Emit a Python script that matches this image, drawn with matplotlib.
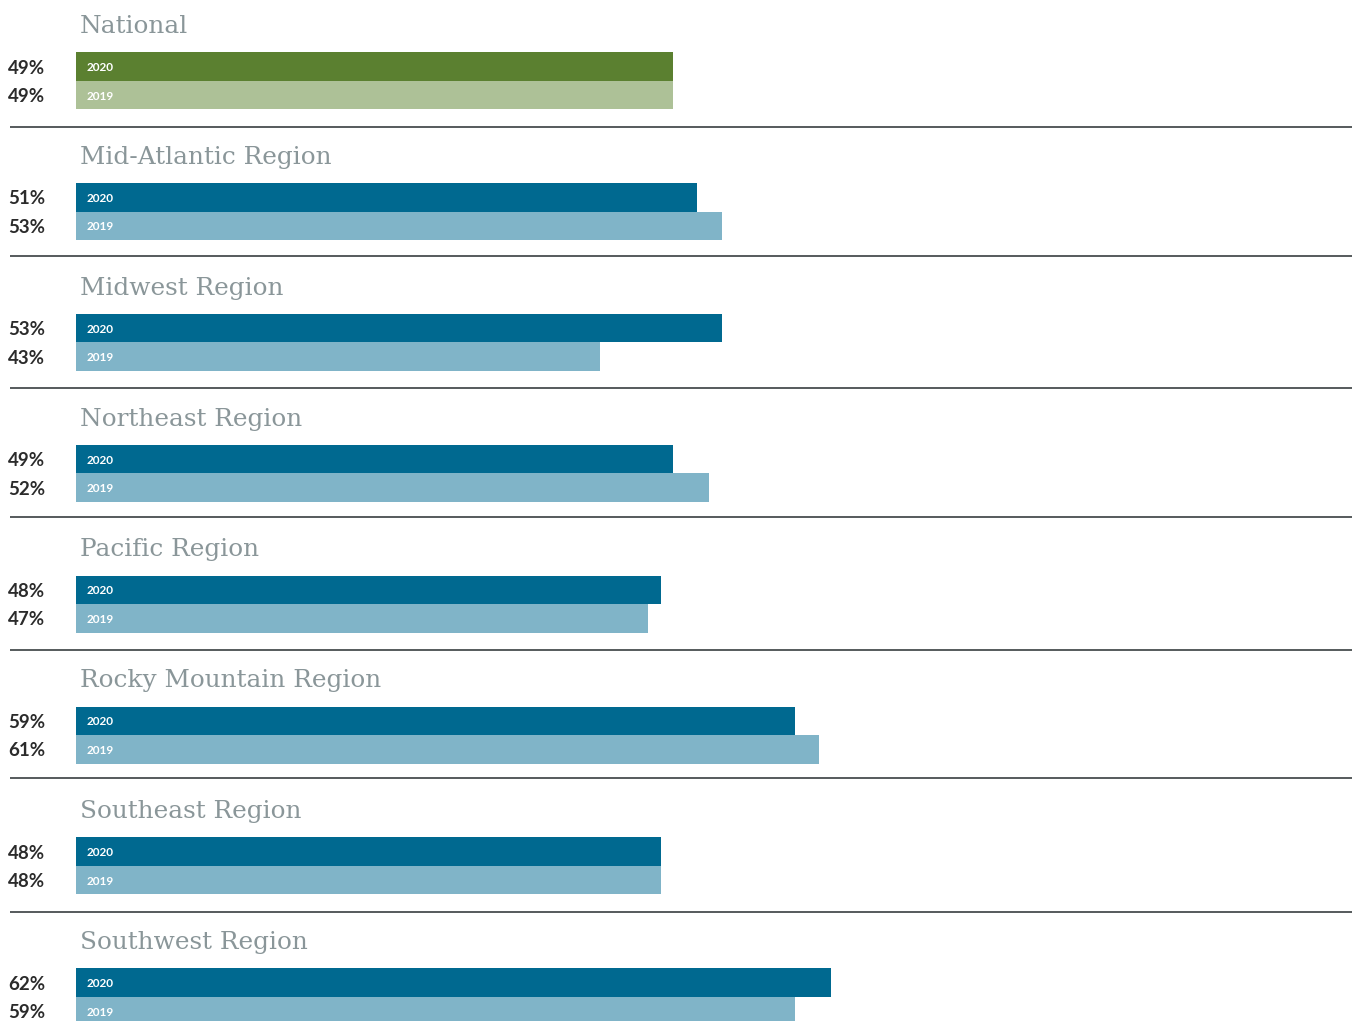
import matplotlib
matplotlib.use("Agg")
import matplotlib.pyplot as plt

regions = ["National", "Mid-Atlantic Region", "Midwest Region", "Northeast Region",
           "Pacific Region", "Rocky Mountain Region", "Southeast Region", "Southwest Region"]
values_2020 = [49, 51, 53, 49, 48, 59, 48, 62]
values_2019 = [49, 53, 43, 52, 47, 61, 48, 59]
year_labels = ["2020", "2019"]

W, H = 1357, 1021
fig = plt.figure(figsize=(W / 100, H / 100), dpi=100)
ax = fig.add_axes([0, 0, 1, 1])
px_per_pct = 12.18
x0 = 76
ax.set_xlim(-x0 / px_per_pct, (W - x0) / px_per_pct)
ax.set_ylim(H, 0)
ax.axis("off")

spacing = 130.86
bar_h = 28.5
sep_y = [127, 256, 388, 517, 650, 778, 912]

def px_x(p):
    return (p - x0) / px_per_pct

for i, name in enumerate(regions):
    base = i * spacing
    if i == 0:
        c20, c19 = "#5b8030", "#adc197"
    else:
        c20, c19 = "#006990", "#80b4c8"
    y20 = 66.5 + base
    y19 = 95 + base
    ax.barh([y20], [values_2020[i]], height=bar_h, left=0, color=c20, linewidth=0)
    ax.barh([y19], [values_2019[i]], height=bar_h, left=0, color=c19, linewidth=0)
    ax.text(px_x(87), y20 + 1, year_labels[0], color="white", fontsize=8.5,
            fontweight="bold", family="Lato", va="center", ha="left")
    ax.text(px_x(87), y19 + 1, year_labels[1], color="white", fontsize=8.5,
            fontweight="bold", family="Lato", va="center", ha="left")
    ax.text(px_x(8), y20 + 1.5, f"{values_2020[i]}%", color="#2b2b2b", fontsize=13.5,
            fontweight="bold", family="Lato", va="center", ha="left")
    ax.text(px_x(8), y19 + 1.5, f"{values_2019[i]}%", color="#2b2b2b", fontsize=13.5,
            fontweight="bold", family="Lato", va="center", ha="left")
    ax.text(px_x(80), 33 + base, name, color="#8a9699", fontsize=17.8,
            family="DejaVu Serif", va="baseline", ha="left")

for y in sep_y:
    ax.plot([px_x(10), px_x(1352)], [y, y], color="#555a5c", lw=1.4, solid_capstyle="butt")

fig.savefig("out.png", dpi=100)
